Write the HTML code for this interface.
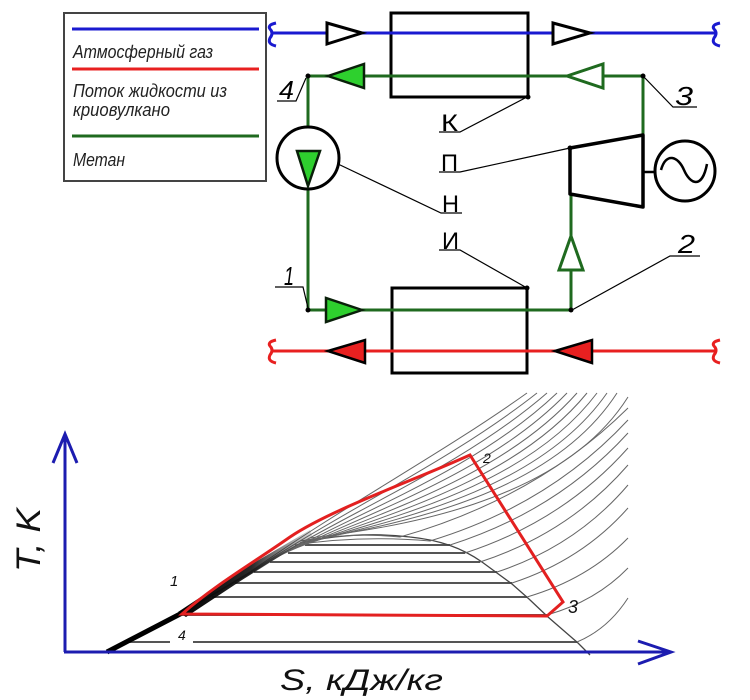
<!DOCTYPE html>
<html><head><meta charset="utf-8"><style>
html,body{margin:0;padding:0;background:#fff;}
svg{display:block;}
text{font-family:"Liberation Sans","DejaVu Sans",sans-serif;}
</style></head><body>
<svg width="750" height="700" viewBox="0 0 750 700" xmlns="http://www.w3.org/2000/svg">
<defs>
<linearGradient id="bandg" x1="0" y1="0" x2="1" y2="0">
<stop offset="0" stop-color="#000" stop-opacity="1"/>
<stop offset="0.55" stop-color="#111" stop-opacity="0.9"/>
<stop offset="1" stop-color="#444" stop-opacity="0.2"/>
</linearGradient>
</defs>
<rect width="750" height="700" fill="#fff"/>

<!-- Legend -->
<rect x="64" y="13" width="202" height="168" fill="#fff" stroke="#444" stroke-width="2"/>
<line x1="72" y1="29" x2="259" y2="29" stroke="#1a1ad0" stroke-width="3"/>
<text x="73" y="58" font-size="18" font-style="italic" fill="#222" textLength="140" lengthAdjust="spacingAndGlyphs">Атмосферный газ</text>
<line x1="72" y1="69" x2="259" y2="69" stroke="#e82020" stroke-width="3"/>
<text x="73" y="97" font-size="18" font-style="italic" fill="#222" textLength="154" lengthAdjust="spacingAndGlyphs">Поток жидкости из</text>
<text x="73" y="116" font-size="18" font-style="italic" fill="#222" textLength="97" lengthAdjust="spacingAndGlyphs">криовулкано</text>
<line x1="72" y1="136" x2="259" y2="136" stroke="#1f6a1f" stroke-width="3"/>
<text x="73" y="166" font-size="18" font-style="italic" fill="#222" textLength="52" lengthAdjust="spacingAndGlyphs">Метан</text>

<!-- Boxes -->
<rect x="391" y="13" width="137" height="84" fill="#fff" stroke="#000" stroke-width="3"/>
<rect x="392" y="288" width="135" height="85" fill="#fff" stroke="#000" stroke-width="3"/>

<!-- Blue line -->
<line x1="273" y1="33" x2="716" y2="33" stroke="#1a1ad0" stroke-width="3"/>
<path d="M276,23 Q267,25 270,29 Q274,33 270,38 Q267,44 276,46" fill="none" stroke="#1a1ad0" stroke-width="3"/>
<path d="M720,23 Q711,25 714,29 Q718,33 714,38 Q711,44 720,46" fill="none" stroke="#1a1ad0" stroke-width="3"/>
<polygon points="327,23 362,33 327,44" fill="#fff" stroke="#000" stroke-width="3" stroke-linejoin="miter"/>
<polygon points="553,23 590,33 553,44" fill="#fff" stroke="#000" stroke-width="3"/>

<!-- Red line -->
<line x1="273" y1="351" x2="716" y2="351" stroke="#e82020" stroke-width="3"/>
<path d="M276,340 Q267,342 270,346 Q274,350 270,355 Q267,361 276,363" fill="none" stroke="#e82020" stroke-width="3"/>
<path d="M720,340 Q711,342 714,346 Q718,350 714,355 Q711,361 720,363" fill="none" stroke="#e82020" stroke-width="3"/>
<polygon points="328,351 365,340 365,363" fill="#e82020" stroke="#000" stroke-width="2.5"/>
<polygon points="555,351 592,340 592,363" fill="#e82020" stroke="#000" stroke-width="2.5"/>

<!-- Green methane loop -->
<g stroke="#1f6a1f" stroke-width="3" fill="none">
<line x1="308" y1="76" x2="643" y2="76"/>
<line x1="308" y1="76" x2="308" y2="127"/>
<line x1="308" y1="188" x2="308" y2="310"/>
<line x1="308" y1="310" x2="572" y2="310"/>
<line x1="571" y1="194" x2="571" y2="310"/>
<line x1="643" y1="76" x2="643" y2="135"/>
</g>
<polygon points="328,76 364,64 364,88" fill="#2ed02e" stroke="#0a200a" stroke-width="2.5"/>
<polygon points="567,76 603,64 603,88" fill="#fff" stroke="#1f6a1f" stroke-width="3"/>
<polygon points="362,310 326,298 326,322" fill="#2ed02e" stroke="#0a200a" stroke-width="2.5"/>
<polygon points="571,236 559,270 583,270" fill="#fff" stroke="#1f6a1f" stroke-width="3"/>

<!-- Pump -->
<circle cx="308" cy="158" r="31" fill="#fff" stroke="#000" stroke-width="3"/>
<polygon points="297,151 320,151 308,186" fill="#2ed02e" stroke="#0a200a" stroke-width="2.5"/>

<!-- Turbine -->
<polygon points="570,148 643,135 643,207 570,194" fill="#fff" stroke="#000" stroke-width="3.5" stroke-linejoin="round"/>
<line x1="643" y1="172" x2="655" y2="172" stroke="#000" stroke-width="2.5"/>
<circle cx="685" cy="171" r="30" fill="#fff" stroke="#000" stroke-width="3"/>
<path d="M661,170 C666,152 678,156 684,170 C690,184 702,190 707,164" fill="none" stroke="#000" stroke-width="2.5"/>

<!-- Nodes -->
<g fill="#000">
<circle cx="308" cy="76" r="2.5"/><circle cx="643" cy="76" r="2.5"/>
<circle cx="528" cy="97" r="2.5"/><circle cx="570" cy="148" r="2.5"/>
<circle cx="308" cy="310" r="2.5"/><circle cx="571" cy="310" r="2.5"/>
<circle cx="527" cy="288" r="2.5"/>
</g>

<!-- Leaders & labels -->
<g stroke="#000" stroke-width="1.2" fill="none">
<polyline points="277,101 296,101 306,78"/>
<polyline points="643,76 673,107 697,107"/>
<polyline points="439,132 460,132 527,97"/>
<polyline points="439,172 460,172 570,148"/>
<polyline points="338,164 441,213 462,213"/>
<polyline points="439,250 460,250 527,288"/>
<polyline points="275,287 303,287 308,308"/>
<polyline points="572,310 670,256 700,256"/>
</g>
<g fill="#000">
<text x="279" y="99" font-size="26" font-style="italic" textLength="15" lengthAdjust="spacingAndGlyphs">4</text>
<text x="675" y="105" font-size="26" font-style="italic" textLength="18" lengthAdjust="spacingAndGlyphs">3</text>
<text x="284" y="285" font-size="26" font-style="italic" textLength="10" lengthAdjust="spacingAndGlyphs">1</text>
<text x="678" y="253" font-size="26" font-style="italic" textLength="17" lengthAdjust="spacingAndGlyphs">2</text>
<text x="441" y="131" font-size="24" textLength="17" lengthAdjust="spacingAndGlyphs">К</text>
<text x="441" y="171" font-size="24" textLength="17" lengthAdjust="spacingAndGlyphs">П</text>
<text x="442" y="212" font-size="24" textLength="17" lengthAdjust="spacingAndGlyphs">Н</text>
<text x="442" y="249" font-size="24" textLength="17" lengthAdjust="spacingAndGlyphs">И</text>
</g>

<!-- T-S chart -->
<!-- horizontal two-phase lines -->
<g stroke="#555" stroke-width="2">
<line x1="305" y1="545" x2="450" y2="545"/>
<line x1="288" y1="553" x2="465" y2="553"/>
<line x1="270" y1="562" x2="480" y2="562"/>
<line x1="254" y1="572" x2="497" y2="572"/>
<line x1="235" y1="583" x2="512" y2="583"/>
<line x1="212" y1="597" x2="527" y2="597"/>
<line x1="182" y1="615" x2="547" y2="615"/>
<line x1="128" y1="642" x2="170" y2="642"/>
<line x1="193" y1="642" x2="577" y2="642"/>
</g>
<!-- dome -->
<path d="M300,543 C330,536 370,532 410,537 C440,540 462,548 482,562 L512,584 L529,599 L548,617 L578,643 L590,655" fill="none" stroke="#444" stroke-width="1.3"/>
<!-- isobars -->
<g stroke="#666" stroke-width="1" fill="none">
<path d="M577,642 Q608,629 628,598"/>
<path d="M547,615 Q596,601 628,568"/>
<path d="M527,597 Q588,579 628,538"/>
<path d="M512,583 Q582,560 628,508"/>
<path d="M497,572 Q576,546 628,485"/>
<path d="M480,562 Q569,533 628,465"/>
<path d="M465,553 Q563,521 628,448"/>
<path d="M450,545 Q557,511 628,433"/>
<path d="M295,545 Q360,535 430,541 Q549,505 628,420"/>
<path d="M300,541 Q350,532 400,537 Q537,498 628,408"/>
<path d="M182,613 L310,538 C390,528 560,505 628,397"/>
<path d="M182,613 L304,541.4 C385.5,525.7 548,500 617,393"/>
<path d="M182,613 L298,544.8 C381,523.4 536,495 607,393"/>
<path d="M182,613 L292,548.2 C376.5,521.1 524,490 597,393"/>
<path d="M182,613 L286,551.6 C372,518.8 512,485 587,393"/>
<path d="M182,613 L280,555 C367.5,516.5 500,480 577,393"/>
<path d="M182,613 L274,558.4 C363,514.2 488,475 567,393"/>
<path d="M182,613 L268,561.8 C358.5,511.9 476,470 557,393"/>
<path d="M182,613 L262,565.2 C354,509.6 464,465 547,393"/>
<path d="M182,613 L256,568.6 C349.5,507.3 452,460 537,393"/>
<path d="M182,613 L250,572 C345,505 440,455 527,393"/>
</g>
<!-- dense band -->
<polygon points="178,612 240,571 310,530 312,536 242,580 186,617" fill="url(#bandg)"/>
<line x1="107" y1="652" x2="184" y2="612" stroke="#000" stroke-width="5"/>

<!-- red cycle -->
<path d="M182,614 L547,616 L563,602 L470,455 C410,482 330,510 290,537 C250,565 215,585 182,614 Z" fill="none" stroke="#e32020" stroke-width="3" stroke-linejoin="miter"/>

<!-- axes -->
<g stroke="#1c1cb0" stroke-width="3" fill="none">
<line x1="65" y1="434" x2="65" y2="652"/>
<polyline points="53,463 65,434 77,463"/>
<line x1="64" y1="652" x2="671" y2="652"/>
<polyline points="638,641 671,652 638,664"/>
</g>

<!-- chart labels -->
<g fill="#111" font-style="italic">
<text x="170" y="586" font-size="15">1</text>
<text x="178" y="640" font-size="14">4</text>
<text x="483" y="463" font-size="14">2</text>
<text x="568" y="613" font-size="18">3</text>
</g>
<text transform="translate(40,572) rotate(-90)" font-size="34" font-style="italic" fill="#111" textLength="64" lengthAdjust="spacingAndGlyphs">T, K</text>
<text x="280" y="690" font-size="30" font-style="italic" fill="#111" textLength="163" lengthAdjust="spacingAndGlyphs">S, кДж/кг</text>
</svg>
</body></html>
